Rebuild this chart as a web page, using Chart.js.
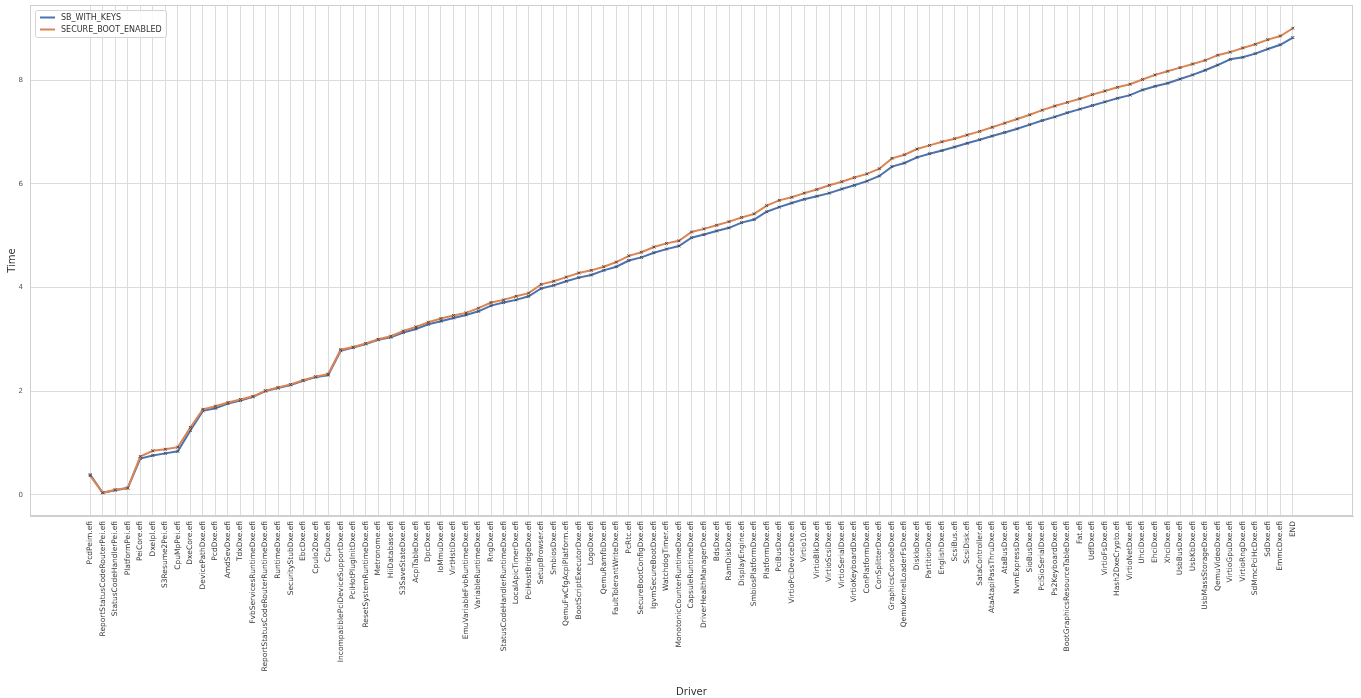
<!DOCTYPE html>
<html>
<head>
<meta charset="utf-8">
<script src="https://cdn.jsdelivr.net/npm/chart.js@4/dist/chart.umd.min.js"></script>
<style>
  html, body { margin: 0; padding: 0; background: #ffffff; }
  #wrap { width: 1361px; height: 698px; }
</style>
</head>
<body>
<div id="wrap"><canvas id="c" width="1361" height="698"></canvas></div>
<script>
// Boot drivers in load order
const drivers = [
  "PcdPeim.efi", "ReportStatusCodeRouterPei.efi", "StatusCodeHandlerPei.efi", "PlatformPei.efi",
  "PeiCore.efi", "DxeIpl.efi", "S3Resume2Pei.efi", "CpuMpPei.efi", "DxeCore.efi",
  "DevicePathDxe.efi", "PcdDxe.efi", "AmdSevDxe.efi", "TdxDxe.efi", "FvbServicesRuntimeDxe.efi",
  "ReportStatusCodeRouterRuntimeDxe.efi", "RuntimeDxe.efi", "SecurityStubDxe.efi", "EbcDxe.efi",
  "CpuIo2Dxe.efi", "CpuDxe.efi", "IncompatiblePciDeviceSupportDxe.efi", "PciHotPlugInitDxe.efi",
  "ResetSystemRuntimeDxe.efi", "Metronome.efi", "HiiDatabase.efi", "S3SaveStateDxe.efi",
  "AcpiTableDxe.efi", "DpcDxe.efi", "IoMmuDxe.efi", "VirtHstiDxe.efi",
  "EmuVariableFvbRuntimeDxe.efi", "VariableRuntimeDxe.efi", "RngDxe.efi",
  "StatusCodeHandlerRuntimeDxe.efi", "LocalApicTimerDxe.efi", "PciHostBridgeDxe.efi",
  "SetupBrowser.efi", "SmbiosDxe.efi", "QemuFwCfgAcpiPlatform.efi", "BootScriptExecutorDxe.efi",
  "LogoDxe.efi", "QemuRamfbDxe.efi", "FaultTolerantWriteDxe.efi", "PcRtc.efi",
  "SecureBootConfigDxe.efi", "IgvmSecureBootDxe.efi", "WatchdogTimer.efi",
  "MonotonicCounterRuntimeDxe.efi", "CapsuleRuntimeDxe.efi", "DriverHealthManagerDxe.efi",
  "BdsDxe.efi", "RamDiskDxe.efi", "DisplayEngine.efi", "SmbiosPlatformDxe.efi", "PlatformDxe.efi",
  "PciBusDxe.efi", "VirtioPciDeviceDxe.efi", "Virtio10.efi", "VirtioBlkDxe.efi", "VirtioScsiDxe.efi",
  "VirtioSerialDxe.efi", "VirtioKeyboardDxe.efi", "ConPlatformDxe.efi", "ConSplitterDxe.efi",
  "GraphicsConsoleDxe.efi", "QemuKernelLoaderFsDxe.efi", "DiskIoDxe.efi", "PartitionDxe.efi",
  "EnglishDxe.efi", "ScsiBus.efi", "ScsiDisk.efi", "SataController.efi", "AtaAtapiPassThruDxe.efi",
  "AtaBusDxe.efi", "NvmExpressDxe.efi", "SioBusDxe.efi", "PciSioSerialDxe.efi", "Ps2KeyboardDxe.efi",
  "BootGraphicsResourceTableDxe.efi", "Fat.efi", "UdfDxe.efi", "VirtioFsDxe.efi",
  "Hash2DxeCrypto.efi", "VirtioNetDxe.efi", "UhciDxe.efi", "EhciDxe.efi", "XhciDxe.efi",
  "UsbBusDxe.efi", "UsbKbDxe.efi", "UsbMassStorageDxe.efi", "QemuVideoDxe.efi", "VirtioGpuDxe.efi",
  "VirtioRngDxe.efi", "SdMmcPciHcDxe.efi", "SdDxe.efi", "EmmcDxe.efi", "END"
];

// Cumulative time per driver
const sbWithKeys = [
  0.39, 0.04, 0.09, 0.13, 0.70, 0.76, 0.80, 0.84, 1.24, 1.62,
  1.67, 1.76, 1.82, 1.89, 2.00, 2.06, 2.12, 2.20, 2.27, 2.31,
  2.78, 2.84, 2.91, 2.99, 3.04, 3.13, 3.20, 3.29, 3.35, 3.41,
  3.47, 3.54, 3.65, 3.71, 3.76, 3.83, 3.98, 4.04, 4.12, 4.19,
  4.24, 4.33, 4.40, 4.52, 4.58, 4.67, 4.74, 4.80, 4.96, 5.02,
  5.09, 5.15, 5.25, 5.31, 5.46, 5.55, 5.63, 5.70, 5.76, 5.82,
  5.90, 5.97, 6.05, 6.15, 6.33, 6.40, 6.51, 6.58, 6.64, 6.71,
  6.78, 6.85, 6.92, 6.99, 7.06, 7.14, 7.22, 7.29, 7.37, 7.44,
  7.51, 7.58, 7.65, 7.71, 7.81, 7.88, 7.94, 8.02, 8.10, 8.19,
  8.29, 8.40, 8.44, 8.51, 8.60, 8.68, 8.82
];
const secureBootEnabled = [
  0.37, 0.04, 0.10, 0.13, 0.74, 0.85, 0.88, 0.92, 1.30, 1.65,
  1.71, 1.78, 1.84, 1.90, 2.01, 2.07, 2.13, 2.21, 2.28, 2.33,
  2.80, 2.85, 2.92, 3.00, 3.06, 3.16, 3.24, 3.33, 3.40, 3.46,
  3.51, 3.60, 3.71, 3.76, 3.83, 3.89, 4.06, 4.12, 4.20, 4.28,
  4.33, 4.40, 4.49, 4.61, 4.68, 4.78, 4.85, 4.90, 5.07, 5.13,
  5.20, 5.27, 5.35, 5.42, 5.58, 5.68, 5.74, 5.82, 5.89, 5.97,
  6.04, 6.12, 6.19, 6.29, 6.49, 6.56, 6.67, 6.74, 6.81, 6.87,
  6.94, 7.01, 7.09, 7.17, 7.25, 7.33, 7.42, 7.50, 7.57, 7.64,
  7.72, 7.79, 7.86, 7.92, 8.01, 8.10, 8.17, 8.24, 8.31, 8.38,
  8.48, 8.54, 8.62, 8.69, 8.78, 8.85, 9.00
];

const yTicks = [0, 2, 4, 6, 8];

const BLUE = '#4c72b0';
const ORANGE = '#dd8452';
const GRID = '#dcdcdc';
const FRAME = '#cfcfcf';
const FONT = '"DejaVu Sans", "Liberation Sans", sans-serif';

// 5% padding on both axes
const n = drivers.length;
const xPad = (n - 1) * 0.05;
const allVals = sbWithKeys.concat(secureBootEnabled);
const yLo = Math.min(...allVals), yHi = Math.max(...allVals);
const yPad = (yHi - yLo) * 0.05;

const toPoints = arr => arr.map((v, i) => ({ x: i, y: v }));

// Light frame round the whole plot area
const plotFrame = {
  id: 'plotFrame',
  beforeDatasetsDraw(chart) {
    const { ctx, chartArea: a } = chart;
    ctx.save();
    ctx.strokeStyle = FRAME;
    ctx.lineWidth = 1;
    ctx.strokeRect(Math.round(a.left) + 0.5, Math.round(a.top) + 0.5,
                   Math.round(a.right - a.left) - 1, Math.round(a.bottom - a.top) - 1);
    ctx.restore();
  }
};

// Legend box in the upper-left corner of the plot
const boxLegend = {
  id: 'boxLegend',
  afterDraw(chart) {
    const { ctx, chartArea } = chart;
    const x0 = chartArea.left + 5, y0 = chartArea.top + 5;
    const w = 131, h = 27;
    ctx.save();
    ctx.fillStyle = 'rgba(255,255,255,0.85)';
    ctx.strokeStyle = '#d4d4d4';
    ctx.lineWidth = 1;
    ctx.beginPath();
    ctx.roundRect(x0 + 0.5, y0 + 0.5, w, h, 2);
    ctx.fill();
    ctx.stroke();
    ctx.font = '8px ' + FONT;
    ctx.textBaseline = 'middle';
    chart.data.datasets.forEach((ds, k) => {
      const yy = y0 + 7.5 + k * 12;
      ctx.strokeStyle = ds.borderColor;
      ctx.lineWidth = 2;
      ctx.beginPath();
      ctx.moveTo(x0 + 5, yy);
      ctx.lineTo(x0 + 20, yy);
      ctx.stroke();
      ctx.fillStyle = '#333333';
      ctx.fillText(ds.label, x0 + 26, yy + 0.5);
    });
    ctx.restore();
  }
};

new Chart(document.getElementById('c'), {
  type: 'line',
  data: {
    datasets: [
      {
        label: 'SB_WITH_KEYS',
        data: toPoints(sbWithKeys),
        borderColor: BLUE,
        backgroundColor: BLUE,
        borderWidth: 2,
        pointStyle: 'crossRot',
        pointRadius: 2,
        pointBorderColor: '#4a4a4a',
        pointBorderWidth: 1,
        tension: 0,
        order: 1
      },
      {
        label: 'SECURE_BOOT_ENABLED',
        data: toPoints(secureBootEnabled),
        borderColor: ORANGE,
        backgroundColor: ORANGE,
        borderWidth: 2,
        pointStyle: 'crossRot',
        pointRadius: 2,
        pointBorderColor: '#4a4a4a',
        pointBorderWidth: 1,
        tension: 0,
        order: 0
      }
    ]
  },
  options: {
    responsive: false,
    animation: false,
    events: [],
    layout: { padding: { left: 0, top: 4, right: 8, bottom: 0 } },
    plugins: {
      legend: { display: false },
      tooltip: { enabled: false }
    },
    scales: {
      x: {
        type: 'linear',
        min: -xPad,
        max: (n - 1) + xPad,
        afterBuildTicks: scale => { scale.ticks = drivers.map((_, i) => ({ value: i })); },
        afterFit: scale => { scale.height = 182; },
        grid: { color: GRID, lineWidth: 1, drawTicks: false },
        border: { display: true, color: FRAME },
        ticks: {
          autoSkip: false,
          minRotation: 90,
          maxRotation: 90,
          padding: 5,
          color: '#3a3a3a',
          font: { family: FONT, size: 7.5 },
          callback: v => drivers[v]
        },
        title: {
          display: true,
          text: 'Driver',
          color: '#333333',
          font: { family: FONT, size: 10 },
          padding: { top: 0, bottom: 0 }
        }
      },
      y: {
        type: 'linear',
        min: yLo - yPad,
        max: yHi + yPad,
        afterBuildTicks: scale => { scale.ticks = yTicks.map(v => ({ value: v })); },
        afterFit: scale => {
          scale.width = 30;
          scale.paddingTop = 0;
          scale.paddingBottom = 0;
        },
        grid: { color: GRID, lineWidth: 1, drawTicks: false },
        border: { display: true, color: FRAME },
        ticks: {
          padding: 7,
          color: '#555555',
          font: { family: FONT, size: 7 }
        },
        title: {
          display: true,
          text: 'Time',
          color: '#333333',
          font: { family: FONT, size: 10 },
          padding: { top: 6, bottom: 0 }
        }
      }
    }
  },
  plugins: [plotFrame, boxLegend]
});
</script>
</body>
</html>
